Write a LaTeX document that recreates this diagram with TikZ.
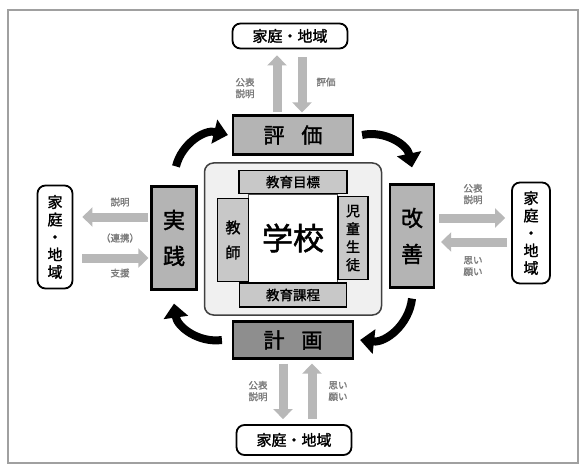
\documentclass[tikz,border=0pt]{standalone}
\usepackage{fontspec}
\setmainfont{Noto Sans CJK JP}[AutoFakeBold=1.6]
\usetikzlibrary{arrows.meta}
\definecolor{stepfill}{HTML}{B4B4B4}
\definecolor{planfill}{HTML}{8E8E8E}
\definecolor{innerfill}{HTML}{C8C8C8}
\definecolor{centerfill}{HTML}{F0F0F0}
\definecolor{garr}{HTML}{B8B8B8}
\definecolor{lbltext}{HTML}{7A7A7A}
\definecolor{framec}{HTML}{A0A0A0}
\tikzset{
  fam/.style={draw, rounded corners=8pt, line width=1.8pt, fill=white, inner sep=0pt, font=\fontsize{15}{16.5}\selectfont\bfseries},
  stepbox/.style={draw, line width=2.2pt, fill=stepfill, inner sep=0pt},
  inbox/.style={draw, line width=1.2pt, fill=innerfill, inner sep=0pt, font=\fontsize{13.5}{15}\selectfont\bfseries},
  garrow/.style={draw=garr, line width=9pt, -{Triangle[width=19pt,length=10pt]}},
  blk/.style={line width=8pt, -{Triangle[width=24pt,length=14pt]}},
  lbl/.style={text=lbltext, font=\fontsize{9.5}{11.5}\selectfont\bfseries, align=center, inner sep=0pt},
}
\begin{document}
\begin{tikzpicture}[x=1pt,y=-1pt]
\useasboundingbox (0,0) rectangle (580,465);
\draw[framec, line width=1.5pt] (8,10) rectangle (578,463);

% center block
\node[draw=black!75, line width=1.5pt, rounded corners=9pt, fill=centerfill, minimum width=177pt, minimum height=152pt, inner sep=0pt] (school) at (293,239) {};
\node[draw=black!70, line width=0.8pt, fill=white, minimum width=89pt, minimum height=88pt, inner sep=0pt, font=\fontsize{31}{33}\selectfont\bfseries] (gakko) at (293,238) {学校};
\node[inbox, minimum width=108pt, minimum height=23pt] (mokuhyo) at (293,182) {教育目標};
\node[inbox, minimum width=107pt, minimum height=24pt] (katei) at (293,295) {教育課程};
\node[inbox, minimum width=31pt, minimum height=83pt, align=center, font=\fontsize{15}{25}\selectfont\bfseries] (kyoshi) at (233,240) {教\\師};
\node[inbox, minimum width=30pt, minimum height=83pt, align=center, font=\fontsize{14}{18}\selectfont\bfseries] (jido) at (353,238) {児\\童\\生\\徒};

% PDCA boxes
\node[stepbox, minimum width=120pt, minimum height=39pt, font=\fontsize{21}{23}\selectfont\bfseries] (hyoka) at (293,135) {評\hspace{0.8em}価};
\node[stepbox, fill=planfill, minimum width=120pt, minimum height=37pt, font=\fontsize{21}{23}\selectfont\bfseries] (keikaku) at (293,340) {計\hspace{0.8em}画};
\node[stepbox, minimum width=45pt, minimum height=103pt, align=center, font=\fontsize{22}{36}\selectfont\bfseries] (jissen) at (174,238) {実\\践};
\node[stepbox, minimum width=44pt, minimum height=103pt, align=center, font=\fontsize{22}{36}\selectfont\bfseries] (kaizen) at (412,236) {改\\善};

% family / community boxes
\node[fam, minimum width=115pt, minimum height=25pt] (famT) at (290,36) {家庭・地域};
\node[fam, minimum width=115pt, minimum height=30pt] (famB) at (294,440) {家庭・地域};
\node[fam, minimum width=35pt, minimum height=103pt, align=center, font=\fontsize{15}{17.5}\selectfont\bfseries] (famL) at (55,237) {家\\庭\\・\\地\\域};
\node[fam, minimum width=38pt, minimum height=101pt, align=center, font=\fontsize{15}{17.5}\selectfont\bfseries] (famR) at (531,233) {家\\庭\\・\\地\\域};

% gray arrows: top
\coordinate (tu) at (277,0);
\coordinate (td) at (302,0);
\draw[garrow, shorten <=2pt, shorten >=6pt] (hyoka.north -| tu) -- (famT.south -| tu);
\draw[garrow, shorten <=8pt, shorten >=2pt] (famT.south -| td) -- (hyoka.north -| td);
\node[lbl] (lt1) at (245,88) {公表\\説明};
\node[lbl] (lt2) at (326,82) {評価};

% gray arrows: bottom
\coordinate (bd) at (283,0);
\coordinate (bu) at (312,0);
\draw[garrow, shorten <=4pt, shorten >=5pt] (keikaku.south -| bd) -- (famB.north -| bd);
\draw[garrow, shorten <=5pt, shorten >=4pt] (famB.north -| bu) -- (keikaku.south -| bu);
\node[lbl] (lb1) at (258,391) {公表\\説明};
\node[lbl] (lb2) at (338,391) {思い\\願い};

% gray arrows: left
\coordinate (ll) at (0,217);
\coordinate (lr) at (0,258);
\draw[garrow, shorten <=2pt, shorten >=9pt] (jissen.west |- ll) -- (famL.east |- ll);
\draw[garrow, shorten <=9pt, shorten >=2pt] (famL.east |- lr) -- (jissen.west |- lr);
\node[lbl] (ll1) at (120,202) {説明};
\node[lbl] (ll2) at (120,238) {（連携）};
\node[lbl] (ll3) at (120,273) {支援};

% gray arrows: right
\coordinate (rr) at (0,218);
\coordinate (rl) at (0,242);
\draw[garrow, shorten <=4pt, shorten >=6pt] (kaizen.east |- rr) -- (famR.west |- rr);
\draw[garrow, shorten <=4pt, shorten >=6pt] (famR.west |- rl) -- (kaizen.east |- rl);
\node[lbl] (lr1) at (473,194) {公表\\説明};
\node[lbl] (lr2) at (473,266) {思い\\願い};

% black cycle arrows
\draw[blk] ([xshift=2pt,yshift=19pt]jissen.north) to[bend left=45] ([xshift=-4pt]hyoka.west);
\draw[blk] ([xshift=8pt]hyoka.east) to[bend left=45] ([yshift=16pt]kaizen.north);
\draw[blk] ([yshift=-10pt]kaizen.south) to[bend left=45] ([xshift=6pt]keikaku.east);
\draw[blk] ([xshift=-10pt]keikaku.west) to[bend left=45] ([yshift=-13pt]jissen.south);
\end{tikzpicture}
\end{document}
